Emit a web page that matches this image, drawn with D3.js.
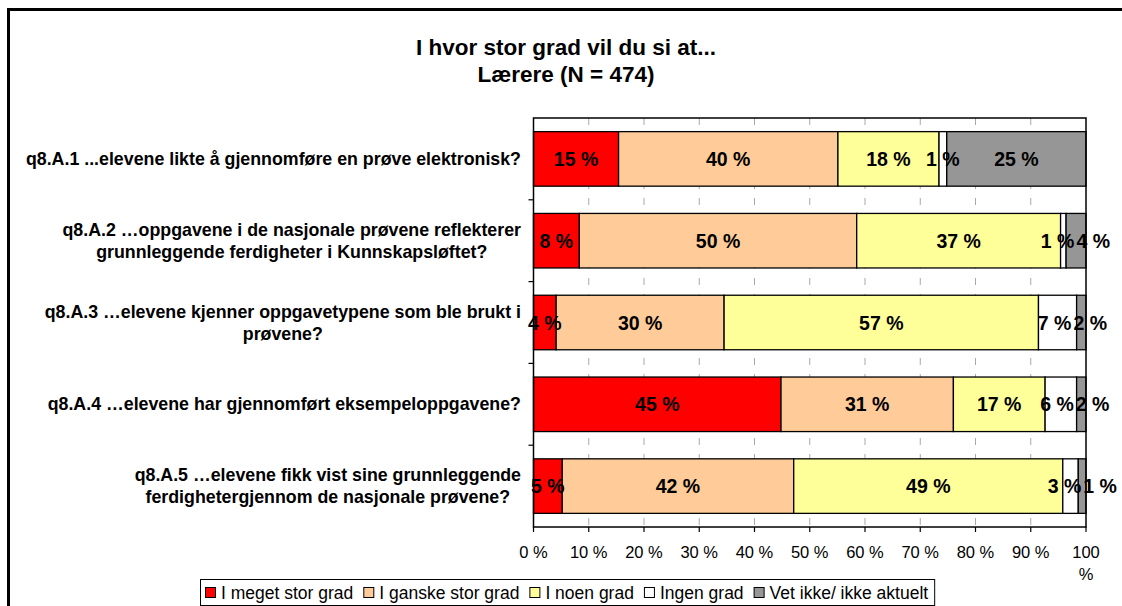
<!DOCTYPE html>
<html>
<head>
<meta charset="utf-8">
<script src="https://cdn.jsdelivr.net/npm/d3@7"></script>
<style>
  html, body { margin: 0; padding: 0; background: #fff; }
  svg { display: block; font-family: "Liberation Sans", Arial, sans-serif; }
</style>
</head>
<body>
<div id="viz"></div>
<script>
// data
const categories = [
  ['q8.A.1 ...elevene likte å gjennomføre en prøve elektronisk?'],
  ['q8.A.2 …oppgavene i de nasjonale prøvene reflekterer', 'grunnleggende ferdigheter i Kunnskapsløftet?'],
  ['q8.A.3 …elevene kjenner oppgavetypene som ble brukt i', 'prøvene?'],
  ['q8.A.4 …elevene har gjennomført eksempeloppgavene?'],
  ['q8.A.5 …elevene fikk vist sine grunnleggende', 'ferdighetergjennom de nasjonale prøvene?']
];
const seriesNames = ['I meget stor grad', 'I ganske stor grad', 'I noen grad', 'Ingen grad', 'Vet ikke/ ikke aktuelt'];
const seriesColors = ['#ff0000', '#ffcc99', '#ffff99', '#ffffff', '#969696'];
// percentages per category, one array per series
const megetStor = [15.4, 8.3, 4.1, 44.8, 5.2];
const ganskeStor = [39.7, 50.2, 30.4, 31.2, 41.9];
const noenGrad = [18.3, 36.9, 56.9, 16.6, 48.7];
const ingenGrad = [1.4, 1.0, 6.9, 5.7, 2.8];
const vetIkke = [25.2, 3.6, 1.7, 1.7, 1.4];
const tickValues = [0, 10, 20, 30, 40, 50, 60, 70, 80, 90, 100];
const title = ['I hvor stor grad vil du si at...', 'Lærere (N = 474)'];

const series = [megetStor, ganskeStor, noenGrad, ingenGrad, vetIkke];

const W = 1122, H = 606;
const plot = { left: 533.5, right: 1086, top: 118, bottom: 527 };

const svg = d3.select('#viz').append('svg')
  .attr('width', W)
  .attr('height', H);

// outer frame
svg.append('rect')
  .attr('x', 8.5).attr('y', 9.5)
  .attr('width', 1200).attr('height', 700)
  .attr('fill', 'none')
  .attr('stroke', '#000')
  .attr('stroke-width', 3);

// title
svg.append('g').selectAll('text')
  .data(title)
  .join('text')
  .attr('x', 566)
  .attr('y', (d, i) => 55 + i * 27)
  .attr('text-anchor', 'middle')
  .attr('font-size', '22.5px')
  .attr('font-weight', 'bold')
  .text(d => d);

const x = d3.scaleLinear().domain([0, 100]).range([plot.left, plot.right]);
const y = d3.scaleBand()
  .domain(d3.range(categories.length))
  .range([plot.top, plot.bottom])
  .paddingInner(1 / 3)
  .paddingOuter(1 / 6);

// grid lines
svg.append('g').selectAll('line')
  .data(tickValues.slice(1, -1))
  .join('line')
  .attr('x1', d => x(d)).attr('x2', d => x(d))
  .attr('y1', plot.top).attr('y2', plot.bottom)
  .attr('stroke', '#a8a8a8')
  .attr('stroke-width', 1)
  .attr('stroke-dasharray', '7,9');

// stacked bars
const rows = categories.map((c, i) => {
  let acc = 0;
  return series.map((s, k) => {
    const seg = { cat: i, k: k, x0: acc, x1: acc + s[i], v: s[i] };
    acc += s[i];
    return seg;
  });
});

const barG = svg.append('g');
rows.forEach(row => {
  barG.selectAll(null)
    .data(row)
    .join('rect')
    .attr('x', d => x(d.x0))
    .attr('y', d => y(d.cat))
    .attr('width', d => x(d.x1) - x(d.x0))
    .attr('height', y.bandwidth())
    .attr('fill', d => seriesColors[d.k])
    .attr('stroke', '#000')
    .attr('stroke-width', 1.3);
});

// plot border
svg.append('rect')
  .attr('x', plot.left).attr('y', plot.top)
  .attr('width', plot.right - plot.left)
  .attr('height', plot.bottom - plot.top)
  .attr('fill', 'none')
  .attr('stroke', '#000')
  .attr('stroke-width', 1.5);

// value labels, nudged apart when they collide
const labG = svg.append('g');
rows.forEach(row => {
  const labs = row.map(d => labG.append('text')
    .attr('x', x((d.x0 + d.x1) / 2))
    .attr('y', y(d.cat) + y.bandwidth() / 2 + 7)
    .attr('text-anchor', 'middle')
    .attr('font-size', '19.5px')
    .attr('font-weight', 'bold')
    .text(Math.round(d.v) + ' %'));
  const pos = row.map(d => x((d.x0 + d.x1) / 2));
  const wid = labs.map(t => t.node().getComputedTextLength());
  for (let i = 1; i < pos.length; i++) {
    const overlap = (pos[i - 1] + wid[i - 1] / 2) - (pos[i] - wid[i] / 2) + 2;
    if (overlap > 0) {
      pos[i - 1] -= overlap * 0.25;
      pos[i] += overlap * 0.75;
    }
  }
  labs.forEach((t, i) => t.attr('x', pos[i]));
});

// x axis ticks and labels
const xAxis = svg.append('g');
xAxis.selectAll('line')
  .data(tickValues)
  .join('line')
  .attr('x1', d => x(d)).attr('x2', d => x(d))
  .attr('y1', plot.bottom).attr('y2', plot.bottom + 5)
  .attr('stroke', '#000')
  .attr('stroke-width', 1.2);

xAxis.selectAll('text')
  .data(tickValues)
  .join('text')
  .attr('x', d => x(d))
  .attr('y', 558)
  .attr('text-anchor', 'middle')
  .attr('font-size', '16.5px')
  .each(function (d) {
    const t = d3.select(this);
    if (d === 100) {
      t.append('tspan').attr('x', x(d)).attr('dy', 0).text('100');
      t.append('tspan').attr('x', x(d)).attr('dy', 22).text('%');
    } else {
      t.text(d + ' %');
    }
  });

// y axis ticks at category boundaries
svg.append('g').selectAll('line')
  .data(d3.range(1, categories.length))
  .join('line')
  .attr('x1', plot.left - 5).attr('x2', plot.left)
  .attr('y1', d => y(d) - y.step() * y.paddingInner() / 2)
  .attr('y2', d => y(d) - y.step() * y.paddingInner() / 2)
  .attr('stroke', '#000')
  .attr('stroke-width', 1.2);

// category labels: block right-aligned, lines centered within it
const catG = svg.append('g');
categories.forEach((lines, i) => {
  const cy = y(i) + y.bandwidth() / 2;
  const texts = lines.map((l, j) => catG.append('text')
    .attr('y', cy + 6 + (j - (lines.length - 1) / 2) * 22)
    .attr('text-anchor', 'middle')
    .attr('font-size', '17.8px')
    .attr('font-weight', 'bold')
    .text(l));
  const maxW = d3.max(texts, t => t.node().getComputedTextLength());
  texts.forEach(t => t.attr('x', 521 - maxW / 2));
});

// legend
const leg = svg.append('g');
const legBox = leg.append('rect')
  .attr('y', 579.5).attr('height', 26)
  .attr('fill', '#fff')
  .attr('stroke', '#000')
  .attr('stroke-width', 1);
let lx = 205;
seriesNames.forEach((name, k) => {
  leg.append('rect')
    .attr('x', lx + 0.5).attr('y', 587.5)
    .attr('width', 10).attr('height', 10)
    .attr('fill', seriesColors[k])
    .attr('stroke', '#000')
    .attr('stroke-width', 1);
  const t = leg.append('text')
    .attr('x', lx + 16)
    .attr('y', 599)
    .attr('font-size', '17.5px')
    .text(name);
  lx += 16 + t.node().getComputedTextLength() + 10;
});
legBox.attr('x', 200.5).attr('width', lx - 200 - 4);
</script>
</body>
</html>
